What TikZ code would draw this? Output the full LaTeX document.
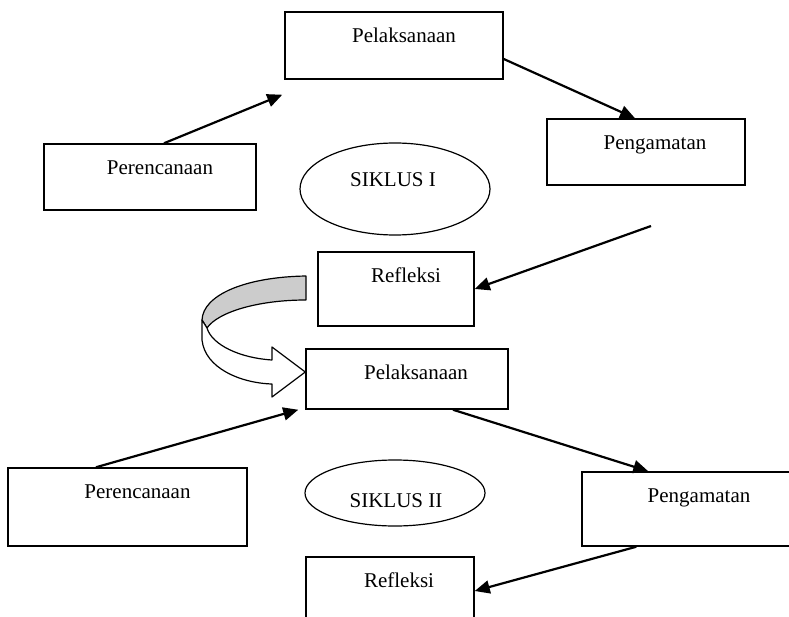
\documentclass[tikz,border=0pt]{standalone}
\usepackage{fontspec}
\setmainfont{Liberation Serif}
\usetikzlibrary{arrows.meta,shapes.geometric}
\begin{document}
\begin{tikzpicture}[x=1pt,y=-1pt,
  box/.style={draw, line width=1.5pt, inner sep=0pt},
  lbl/.style={font=\fontsize{21}{25}\selectfont, anchor=base, inner sep=0pt},
  oval/.style={draw, ellipse, line width=1.2pt, inner sep=0pt},
  arr/.style={line width=2.2pt, -{Triangle[length=15pt,width=13pt]}},
  ribbon/.style={line width=1.2pt, line join=round}]
\useasboundingbox (0,0) rectangle (789,617);
\clip (0,0) rectangle (789,617);

% ---------- Siklus I ----------
\node[box, minimum width=218pt, minimum height=67pt] (pel1) at (394,45.5) {};
\node[lbl] (tpel1) at ([xshift=10pt,yshift=-31pt]pel1.north) {Pelaksanaan};

\node[box, minimum width=198pt, minimum height=66pt] (peng1) at (646,152) {};
\node[lbl] (tpeng1) at ([xshift=9pt,yshift=-31pt]peng1.north) {Pengamatan};

\node[box, minimum width=212pt, minimum height=66pt] (perenc1) at (150,177) {};
\node[lbl] (tperenc1) at ([xshift=10pt,yshift=-31pt]perenc1.north) {Perencanaan};

\node[oval, minimum width=190pt, minimum height=92pt] (siklus1) at (395,189) {};
\node[lbl, anchor=center] (tsiklus1) at (393,180) {SIKLUS I};

\node[box, minimum width=156pt, minimum height=74pt] (ref1) at (396,289) {};
\node[lbl] (tref1) at ([xshift=10pt,yshift=-31pt]ref1.north) {Refleksi};

\coordinate (c1) at ([xshift=-2pt,yshift=-15pt]pel1.south west);
\coordinate (c3) at (651,226);
\draw[arr] ([xshift=14pt]perenc1.north) -- (c1);
\draw[arr] ([yshift=-13.5pt]pel1.east) -- ([xshift=-11pt]peng1.north);
\draw[arr] (c3) -- (ref1.east);

% ---------- Siklus II ----------
\node[box, minimum width=202pt, minimum height=60pt] (pel2) at (407,379) {};
\node[lbl] (tpel2) at ([xshift=9pt,yshift=-31pt]pel2.north) {Pelaksanaan};

\node[box, minimum width=239pt, minimum height=78pt] (perenc2) at (127.5,507) {};
\node[lbl] (tperenc2) at ([xshift=10pt,yshift=-31pt]perenc2.north) {Perencanaan};

\node[box, minimum width=216pt, minimum height=74pt] (peng2) at (690,509) {};
\node[lbl] (tpeng2) at ([xshift=9pt,yshift=-31pt]peng2.north) {Pengamatan};

\node[oval, minimum width=180pt, minimum height=66pt] (siklus2) at (395,493) {};
\node[lbl, anchor=center] (tsiklus2) at (396,501) {SIKLUS II};

\node[box, minimum width=168pt, minimum height=74pt] (ref2) at (390,594) {};
\node[lbl] (tref2) at ([xshift=9pt,yshift=-31pt]ref2.north) {Refleksi};

\draw[arr] ([xshift=-31.5pt]perenc2.north) -- ([xshift=-7pt]pel2.south west);
\draw[arr] ([xshift=46pt]pel2.south) -- ([xshift=67pt]peng2.north west);
\draw[arr] ([xshift=55pt]peng2.south west) -- ([yshift=3pt]ref2.east);

% ---------- curved block arrow ----------
\filldraw[ribbon, fill=black!20]
  (306,276) .. controls (245,277) and (203,295) .. (202,320)
  -- (207,328) .. controls (218,312) and (258,300) .. (306,300) -- cycle;
\filldraw[ribbon, fill=white]
  (202,320) -- (202,340) .. controls (205,368) and (240,383) .. (272,384)
  -- (272,397) -- (pel2.west |- 0,372) -- (272,347) -- (272,360)
  .. controls (240,358) and (212,345) .. (207,328) -- cycle;
\end{tikzpicture}
\end{document}
